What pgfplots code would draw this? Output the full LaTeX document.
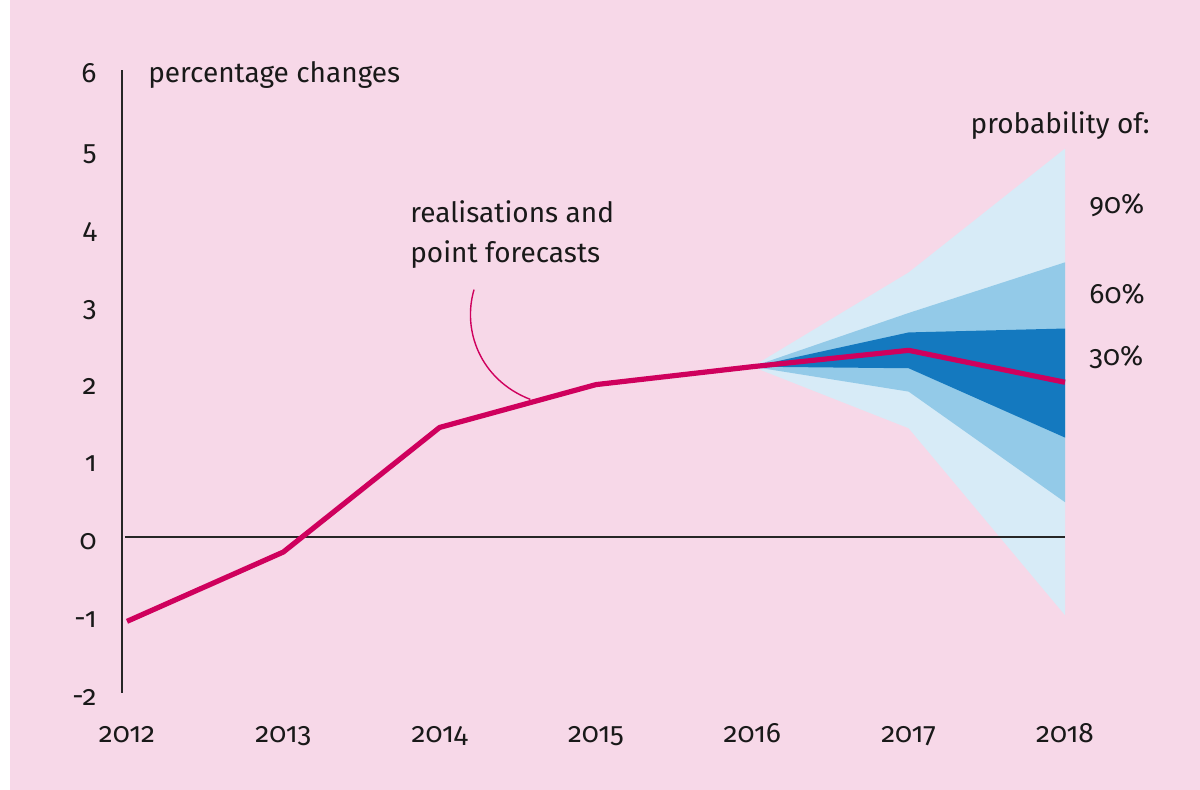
\documentclass[border=0pt]{standalone}
\usepackage{fontspec}
\setmainfont{Fira Sans}[Numbers=OldStyle]
\usepackage{pgfplots}
\pgfplotsset{compat=1.18}
\definecolor{bgpink}{HTML}{F7D8E8}
\definecolor{fanlight}{HTML}{D7EBF7}
\definecolor{fanmid}{HTML}{93CAE8}
\definecolor{fandark}{HTML}{1479BF}
\definecolor{linemag}{HTML}{CF005D}
\begin{document}
\begin{tikzpicture}[font=\fontsize{14}{17}\selectfont]
\useasboundingbox (-61pt,-48.5pt) rectangle (539pt,346.5pt);
\fill[white] (-61pt,-48.5pt) rectangle (539pt,346.5pt);
\fill[bgpink] (-56pt,-48.5pt) rectangle (539pt,346.5pt);
\begin{axis}[
  at={(0,0)}, anchor=south west,
  scale only axis, width=471.5pt, height=311.5pt,
  xmin=2011.968, xmax=2018, ymin=-2, ymax=6,
  axis lines*=left,
  x axis line style={draw=none},
  y axis line style={black!85, line width=1.2pt},
  tick style={draw=none},
  xtick={2012,2013,2014,2015,2016,2017,2018},
  ytick={-2,-1,0,1,2,3,4,5,6},
  /pgf/number format/1000 sep={},
  /pgf/number format/assume math mode=true,
  xticklabel style={anchor=base, yshift=-25pt, text=black!90},
  yticklabel style={anchor=base east, inner sep=0pt, xshift=-12.5pt, yshift=-6.3pt, text=black!90},
  clip=false,
]
% fan chart
\addplot[fill=fanlight, draw=none] coordinates {(2016,2.19) (2017,3.40) (2018,4.99) (2018,-1.0) (2017,1.40) (2016,2.19)};
\addplot[fill=fanmid, draw=none] coordinates {(2016,2.19) (2017,2.88) (2018,3.53) (2018,0.45) (2017,1.87) (2016,2.19)};
\addplot[fill=fandark, draw=none] coordinates {(2016,2.19) (2017,2.63) (2018,2.68) (2018,1.28) (2017,2.17) (2016,2.19)};
% zero line
\addplot[black!85, line width=0.9pt] coordinates {(2011.987,0) (2018,0)};
% annotation curve
\draw[linemag, line width=0.7pt] (axis cs:2014.22,3.18) .. controls (axis cs:2014.143,2.66) and (axis cs:2014.258,2.02) .. (axis cs:2014.58,1.77);
% realisations and point forecasts
\addplot[linemag, line width=2.6pt, line join=round] coordinates {(2012,-1.08) (2013,-0.19) (2014,1.41) (2015,1.96) (2016,2.19) (2017,2.40) (2018,1.99)};
% labels
\node[anchor=base west, inner sep=0pt, text=black!90] at (axis cs:2012.134,5.84) {percentage changes};
\node[anchor=base east, inner sep=0pt, text=black!90] at (axis cs:2018.544,5.19) {probability of:};
\node[anchor=base west, inner sep=0pt, text=black!90] at (axis cs:2018.154,4.16) {90\%};
\node[anchor=base west, inner sep=0pt, text=black!90] at (axis cs:2018.154,3.00) {60\%};
\node[anchor=base west, inner sep=0pt, text=black!90] at (axis cs:2018.154,2.21) {30\%};
\node[anchor=base west, inner sep=0pt, text=black!90] at (axis cs:2013.81,4.04) {realisations and};
\node[anchor=base west, inner sep=0pt, text=black!90] at (axis cs:2013.81,3.53) {point forecasts};
\end{axis}
\end{tikzpicture}
\end{document}
